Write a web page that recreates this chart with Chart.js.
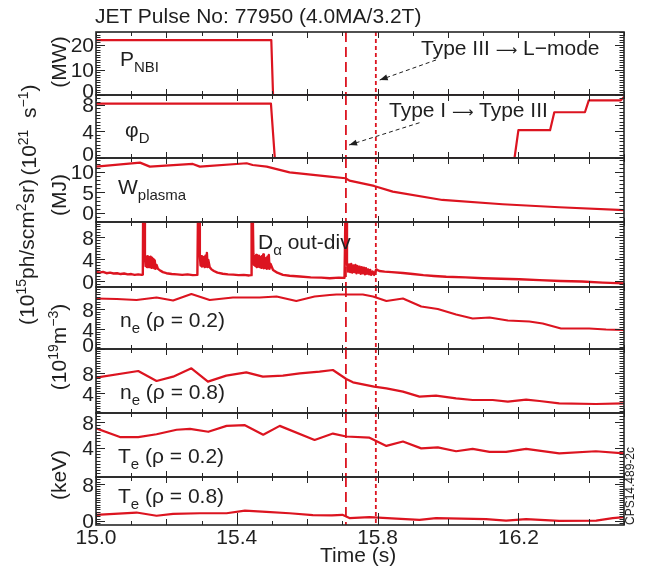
<!DOCTYPE html>
<html lang="en">
<head>
<meta charset="utf-8">
<title>JET Pulse No: 77950</title>
<script src="https://cdn.jsdelivr.net/npm/chart.js@4/dist/chart.umd.min.js"></script>
<style>
    html, body { margin: 0; padding: 0; background: #fff; }
    body {
        width: 648px; height: 578px; position: relative; overflow: hidden;
        font-family: "Liberation Sans", Arial, Helvetica, sans-serif; color: #1f1f1f;
    }
    .feld { position: absolute; left: 0; width: 648px; z-index: 1; }
    .txt { position: absolute; z-index: 2; font-size: 21px; line-height: 1; white-space: nowrap; }
    .txt sub { font-size: 15px; vertical-align: baseline; position: relative; top: 5.5px; }
    .txt sup { font-size: 14px; vertical-align: baseline; position: relative; top: -8px; }
    .pf { font-family: "DejaVu Sans", sans-serif; font-size: 15px; }
    .rot { transform: translate(-50%, -50%) rotate(-90deg); }
</style>
</head>
<body>
<div class="txt" style="left:95px;top:5px">JET Pulse No: 77950 (4.0MA/3.2T)</div>

<div class="txt rot" style="left:58px;top:62px">(MW)</div>
<div class="txt rot" style="left:28px;top:130px">(10<sup>21</sup>&nbsp; s<sup>−1</sup>)</div>
<div class="txt rot" style="left:58px;top:195px">(MJ)</div>
<div class="txt rot" style="left:26px;top:252px">(10<sup>15</sup>ph/scm<sup>2</sup>sr)</div>
<div class="txt rot" style="left:58px;top:347px">(10<sup>19</sup>m<sup>−3</sup>)</div>
<div class="txt rot" style="left:58px;top:475px">(keV)</div>

<div class="txt" style="left:120px;top:48px">P<sub>NBI</sub></div>
<div class="txt" style="left:125px;top:119px">φ<sub>D</sub></div>
<div class="txt" style="left:118px;top:176px">W<sub>plasma</sub></div>
<div class="txt" style="left:258px;top:231px">D<sub>α</sub> out-div</div>
<div class="txt" style="left:120px;top:309px">n<sub>e</sub> (ρ = 0.2)</div>
<div class="txt" style="left:120px;top:381px">n<sub>e</sub> (ρ = 0.8)</div>
<div class="txt" style="left:118px;top:445px">T<sub>e</sub> (ρ = 0.2)</div>
<div class="txt" style="left:118px;top:485px">T<sub>e</sub> (ρ = 0.8)</div>

<div class="txt" style="left:421px;top:37px">Type III <span class="pf">⟶</span> L−mode</div>
<div class="txt" style="left:389px;top:99px">Type I <span class="pf">⟶</span> Type III</div>

<div class="txt" style="left:320px;top:544px">Time (s)</div>
<div class="txt rot" style="left:630px;top:486px;font-size:12px">CPS14.489-2c</div>

<script>
// Zeitachse (s)
const xTickWerte = [15.0, 15.4, 15.8, 16.2];
const xTickTexte = ["15.0", "15.4", "15.8", "16.2"];

// Uebergaenge: Type I -> Type III und Type III -> L-mode
const elmEnde = 15.71;
const lmodeZeit = 15.795;

// P_NBI (MW)
const pnbiZeit = [15.0, 15.498, 15.503, 16.5];
const pnbiWerte = [21.8, 21.8, 0, 0];
const pnbiTicks = [0, 10, 20];

// phi_D (10^21 s^-1)
const phiZeit = [15.0, 15.497, 15.508, 16.189, 16.2, 16.29, 16.302, 16.389, 16.4, 16.491, 16.5];
const phiWerte = [8.2, 8.2, 0, 0, 4.2, 4.2, 6.9, 6.9, 8.7, 8.7, 9.2];
const phiTicks = [0, 4, 8];

// W_plasma (MJ)
const wZeit = [15.0, 15.125, 15.153, 15.275, 15.295, 15.428, 15.445, 15.485, 15.55, 15.664,
    15.709, 15.72, 15.79, 15.843, 15.984, 16.155, 16.316, 16.5];
const wWerte = [11.3, 12.27, 11.3, 11.95, 11.3, 12.12, 11.7, 11.3, 9.9, 8.85,
    8.46, 7.88, 6.59, 5.2, 3.17, 2.12, 1.39, 0.7];
const wTicks = [0, 5, 10];

// D_alpha out-div (10^15 ph/s cm^2 sr)
const daZeit = [
    15.000, 15.010, 15.020, 15.030, 15.040, 15.050, 15.060, 15.070, 15.080, 15.090,
    15.100, 15.110, 15.120, 15.130, 15.133, 15.134, 15.137, 15.139, 15.141, 15.143,
    15.145, 15.147, 15.149, 15.151, 15.153, 15.155, 15.157, 15.159, 15.161, 15.163,
    15.165, 15.167, 15.169, 15.172, 15.176, 15.180, 15.190, 15.200, 15.215, 15.230,
    15.245, 15.260, 15.275, 15.288, 15.290, 15.293, 15.295, 15.297, 15.299, 15.301,
    15.303, 15.305, 15.307, 15.309, 15.311, 15.313, 15.315, 15.317, 15.319, 15.323,
    15.328, 15.335, 15.345, 15.360, 15.375, 15.390, 15.405, 15.420, 15.435, 15.441,
    15.442, 15.445, 15.447, 15.449, 15.451, 15.453, 15.455, 15.457, 15.459, 15.461,
    15.463, 15.465, 15.467, 15.469, 15.471, 15.473, 15.475, 15.477, 15.479, 15.481,
    15.483, 15.485, 15.487, 15.489, 15.491, 15.493, 15.496, 15.503, 15.515, 15.531,
    15.550, 15.579, 15.610, 15.640, 15.664, 15.690, 15.706, 15.709, 15.711, 15.713,
    15.716, 15.719, 15.722, 15.725, 15.728, 15.731, 15.734, 15.737, 15.740, 15.743,
    15.746, 15.749, 15.752, 15.755, 15.758, 15.761, 15.764, 15.767, 15.770, 15.773,
    15.776, 15.779, 15.782, 15.786, 15.790, 15.796, 15.805, 15.820, 15.840, 15.872,
    15.900, 15.930, 15.960, 15.995, 16.050, 16.100, 16.150, 16.203, 16.260, 16.320,
    16.380, 16.440, 16.500];
const daWerte = [
    1.8, 1.6, 1.75, 1.5, 1.6, 1.45, 1.5, 1.35, 1.45, 1.3,
    1.35, 1.2, 1.3, 1.2, 1.25, 14, 14, 4.6, 2.8, 4.5,
    2.6, 4.6, 2.9, 4.4, 2.6, 4.5, 2.5, 4.3, 2.7, 4.1,
    2.4, 3.8, 2.3, 3.0, 2.3, 2.1, 1.7, 1.5, 1.35, 1.3,
    1.2, 1.3, 1.15, 1.2, 14, 14, 4.8, 2.9, 4.6, 2.7,
    4.5, 2.8, 4.4, 2.6, 4.7, 2.7, 5.2, 2.6, 3.9, 2.6,
    2.2, 1.9, 1.6, 1.4, 1.3, 1.25, 1.15, 1.2, 1.1, 1.15,
    14, 14, 5.1, 3.0, 4.6, 2.8, 4.8, 2.6, 4.5, 2.7,
    4.7, 2.6, 4.4, 2.5, 4.6, 2.6, 4.9, 2.4, 4.3, 2.5,
    4.2, 2.3, 4.5, 2.4, 4.8, 2.3, 3.2, 2.1, 1.6, 1.2,
    1.05, 0.9, 0.75, 0.7, 0.6, 0.7, 0.65, 14, 14, 3.3,
    1.8, 3.1, 1.7, 3.2, 1.6, 2.9, 1.7, 3.0, 1.5, 2.8,
    1.6, 2.7, 1.4, 2.6, 1.5, 2.5, 1.3, 2.4, 1.4, 2.2,
    1.3, 2.1, 1.2, 1.8, 1.2, 2.2, 1.9, 1.8, 1.7, 1.55,
    1.35, 1.15, 1.0, 0.87, 0.75, 0.6, 0.5, 0.4, 0.25, 0.1,
    0.0, -0.2, -0.35];
const daTicks = [0, 4, 8];

// n_e (rho = 0.2) (10^19 m^-3)
const ne02Zeit = [15.0, 15.059, 15.115, 15.172, 15.219, 15.271, 15.323, 15.389, 15.465, 15.513,
    15.569, 15.621, 15.664, 15.683, 15.758, 15.787, 15.825, 15.872, 15.924, 15.971,
    16.023, 16.07, 16.118, 16.17, 16.231, 16.269, 16.321, 16.401, 16.449, 16.5];
const ne02Werte = [10.1, 10.0, 9.8, 10.3, 9.7, 11.0, 9.8, 10.3, 10.3, 10.5,
    9.6, 10.5, 10.8, 10.9, 10.9, 10.5, 9.6, 10.1, 8.5, 8.0,
    6.9, 6.1, 6.3, 5.7, 5.5, 5.1, 4.1, 4.1, 3.9, 3.8];
const ne02Ticks = [0, 4, 8];

// n_e (rho = 0.8) (10^19 m^-3)
const ne08Zeit = [15.0, 15.12, 15.172, 15.219, 15.271, 15.318, 15.37, 15.427, 15.474, 15.531,
    15.579, 15.635, 15.673, 15.711, 15.73, 15.79, 15.825, 15.872, 15.919, 15.966,
    16.023, 16.07, 16.127, 16.17, 16.222, 16.26, 16.316, 16.42, 16.5];
const ne08Werte = [7.07, 8.4, 6.4, 7.27, 8.93, 6.27, 7.47, 8.13, 7.27, 7.47,
    7.93, 8.27, 8.6, 6.8, 6.13, 5.27, 4.93, 4.27, 3.27, 3.47,
    2.93, 2.6, 2.6, 2.27, 2.67, 2.4, 1.93, 1.8, 1.93];
const ne08Ticks = [4, 8];

// T_e (rho = 0.2) (keV)
const te02Zeit = [15.0, 15.068, 15.12, 15.172, 15.229, 15.267, 15.319, 15.371, 15.423, 15.475,
    15.522, 15.621, 15.673, 15.711, 15.777, 15.825, 15.872, 15.924, 15.971, 16.023,
    16.07, 16.118, 16.165, 16.222, 16.316, 16.42, 16.5];
const te02Werte = [7.03, 5.66, 5.66, 6.1, 6.8, 6.94, 6.48, 7.4, 7.5, 6.03,
    7.4, 5.2, 6.2, 5.75, 5.56, 4.28, 4.97, 3.9, 4.05, 3.45,
    3.82, 3.35, 3.35, 3.82, 3.13, 3.45, 3.13];
const te02Ticks = [4, 8];

// T_e (rho = 0.8) (keV)
const te08Zeit = [15.0, 15.115, 15.172, 15.219, 15.295, 15.371, 15.423, 15.484, 15.55, 15.616,
    15.67, 15.70, 15.72, 15.777, 15.853, 15.919, 15.966, 16.108, 16.165, 16.222,
    16.316, 16.421, 16.468, 16.5];
const te08Werte = [1.3, 1.8, 1.1, 1.5, 1.65, 1.65, 2.2, 1.95, 1.65, 1.25,
    1.2, 1.3, 0.6, 0.8, 0.5, 0.22, 0.58, 0.37, 0.06, 0.37,
    0.0, 0.06, 0.58, 0.8];
const te08Ticks = [0, 8];

// gestrichelte Pfeile zu den Beschriftungen (Zeit, Wert im jeweiligen Feld)
const pfeilLmode = { von: [15.966, 13.9], nach: [15.806, 5.95] };
const pfeilTyp = { von: [15.919, 5.32], nach: [15.719, 1.96] };

const rot = "#dc1420";
const dunkel = "#262626";
const schrift = '21px "Liberation Sans", Arial, sans-serif';
const rand = 14;

const felder = [
    { oben: 32, hoehe: 63, yMin: 0, yMax: 25, fein: 1, ticks: pnbiTicks, zeit: pnbiZeit, werte: pnbiWerte, pfeil: pfeilLmode },
    { oben: 95, hoehe: 63, yMin: 0, yMax: 9.5, fein: 0.5, ticks: phiTicks, zeit: phiZeit, werte: phiWerte, pfeil: pfeilTyp },
    { oben: 158, hoehe: 64, yMin: -2.2, yMax: 13.4, fein: 1, ticks: wTicks, zeit: wZeit, werte: wWerte },
    { oben: 222, hoehe: 65, yMin: -1.0, yMax: 10.8, fein: 0.5, ticks: daTicks, zeit: daZeit, werte: daWerte },
    { oben: 287, hoehe: 62, yMin: 0, yMax: 12.4, fein: 0.5, ticks: ne02Ticks, zeit: ne02Zeit, werte: ne02Werte },
    { oben: 349, hoehe: 64, yMin: 0, yMax: 12.8, fein: 0.5, ticks: ne08Ticks, zeit: ne08Zeit, werte: ne08Werte },
    { oben: 413, hoehe: 64, yMin: -0.55, yMax: 9.4, fein: 0.5, ticks: te02Ticks, zeit: te02Zeit, werte: te02Werte },
    { oben: 477, hoehe: 48, yMin: -0.9, yMax: 9.5, fein: 0.5, ticks: te08Ticks, zeit: te08Zeit, werte: te08Werte, unten: true },
];

function rahmenFuer(feld) {
    return {
        id: "rahmen",
        afterDatasetsDraw(chart) {
            const { ctx, chartArea: a } = chart;
            const x = chart.scales.x;
            const y = chart.scales.y;
            const w = a.right - a.left;
            const h = a.bottom - a.top;

            // senkrechte Linien der Uebergaenge
            ctx.save();
            ctx.beginPath();
            ctx.rect(a.left, a.top, w, h);
            ctx.clip();
            ctx.strokeStyle = rot;
            ctx.lineWidth = 1.8;
            [[elmEnde, [10, 5]], [lmodeZeit, [4, 3]]].forEach(([t, muster]) => {
                const px = x.getPixelForValue(t);
                ctx.setLineDash(muster);
                ctx.beginPath();
                ctx.moveTo(px, a.top);
                ctx.lineTo(px, a.bottom);
                ctx.stroke();
            });
            ctx.restore();

            ctx.save();
            // Striche
            ctx.strokeStyle = dunkel;
            ctx.lineWidth = 1;
            ctx.beginPath();
            const k0 = Math.ceil(feld.yMin / feld.fein - 1e-6);
            const k1 = Math.floor(feld.yMax / feld.fein + 1e-6);
            for (let k = k0; k <= k1; k++) {
                const v = k * feld.fein;
                const py = Math.round(y.getPixelForValue(v)) + 0.5;
                const lang = feld.ticks.some((t) => Math.abs(t - v) < 1e-6) ? 9 : 4.5;
                ctx.moveTo(a.left, py);
                ctx.lineTo(a.left + lang, py);
                ctx.moveTo(a.right, py);
                ctx.lineTo(a.right - lang, py);
            }
            for (let k = 150; k <= 165; k++) {
                const t = k / 10;
                const px = Math.round(x.getPixelForValue(t)) + 0.5;
                const lang = k % 2 === 0 ? 6 : 4;
                ctx.moveTo(px, a.top);
                ctx.lineTo(px, a.top + lang);
                let unten = lang;
                if (feld.unten && xTickWerte.some((v) => Math.abs(v - t) < 1e-6)) unten = 12;
                ctx.moveTo(px, a.bottom);
                ctx.lineTo(px, a.bottom - unten);
            }
            ctx.stroke();

            // Rahmen
            ctx.lineWidth = 1.6;
            ctx.strokeRect(a.left, a.top, w, h);

            // Beschriftung y
            ctx.fillStyle = "#1f1f1f";
            ctx.font = schrift;
            ctx.textAlign = "right";
            ctx.textBaseline = "alphabetic";
            feld.ticks.forEach((v) => {
                let cy = y.getPixelForValue(v);
                cy = Math.max(a.top + 7, Math.min(a.bottom - 5, cy));
                ctx.fillText(String(v), a.left - 2, cy + 7.5);
            });

            // Beschriftung x (nur unterstes Feld)
            if (feld.unten) {
                ctx.textAlign = "center";
                xTickWerte.forEach((v, i) => {
                    ctx.fillText(xTickTexte[i], x.getPixelForValue(v), a.bottom + 19);
                });
            }

            // Pfeil
            if (feld.pfeil) {
                const x0 = x.getPixelForValue(feld.pfeil.von[0]);
                const y0 = y.getPixelForValue(feld.pfeil.von[1]);
                const x1 = x.getPixelForValue(feld.pfeil.nach[0]);
                const y1 = y.getPixelForValue(feld.pfeil.nach[1]);
                ctx.strokeStyle = "#1f1f1f";
                ctx.lineWidth = 1;
                ctx.setLineDash([4, 3]);
                ctx.beginPath();
                ctx.moveTo(x0, y0);
                ctx.lineTo(x1, y1);
                ctx.stroke();
                ctx.setLineDash([]);
                const wkl = Math.atan2(y1 - y0, x1 - x0);
                ctx.beginPath();
                ctx.moveTo(x1, y1);
                ctx.lineTo(x1 - 8 * Math.cos(wkl) + 3 * Math.sin(wkl), y1 - 8 * Math.sin(wkl) - 3 * Math.cos(wkl));
                ctx.lineTo(x1 - 8 * Math.cos(wkl) - 3 * Math.sin(wkl), y1 - 8 * Math.sin(wkl) + 3 * Math.cos(wkl));
                ctx.closePath();
                ctx.fillStyle = "#1f1f1f";
                ctx.fill();
            }
            ctx.restore();
        },
    };
}

felder.forEach((feld) => {
    const untenRand = feld.unten ? 40 : rand;
    const box = document.createElement("div");
    box.className = "feld";
    box.style.top = (feld.oben - rand) + "px";
    box.style.height = (feld.hoehe + rand + untenRand) + "px";
    const canvas = document.createElement("canvas");
    canvas.width = 648;
    canvas.height = feld.hoehe + rand + untenRand;
    canvas.style.width = "648px";
    canvas.style.height = canvas.height + "px";
    box.appendChild(canvas);
    document.body.appendChild(box);

    new Chart(canvas, {
        type: "line",
        data: {
            datasets: [
                {
                    data: feld.zeit.map((t, i) => ({ x: t, y: feld.werte[i] })),
                    borderColor: rot,
                    borderWidth: feld.zeit === daZeit ? 2.4 : 2.2,
                    borderJoinStyle: "round",
                    pointRadius: 0,
                    fill: false,
                    tension: 0,
                },
            ],
        },
        options: {
            responsive: false,
            devicePixelRatio: 1,
            animation: false,
            events: [],
            layout: { padding: { left: 96, right: 24, top: rand, bottom: untenRand } },
            plugins: { legend: { display: false }, tooltip: { enabled: false } },
            scales: {
                x: { type: "linear", min: 15.0, max: 16.5, display: false },
                y: { type: "linear", min: feld.yMin, max: feld.yMax, display: false },
            },
        },
        plugins: [rahmenFuer(feld)],
    });
});
</script>
</body>
</html>
